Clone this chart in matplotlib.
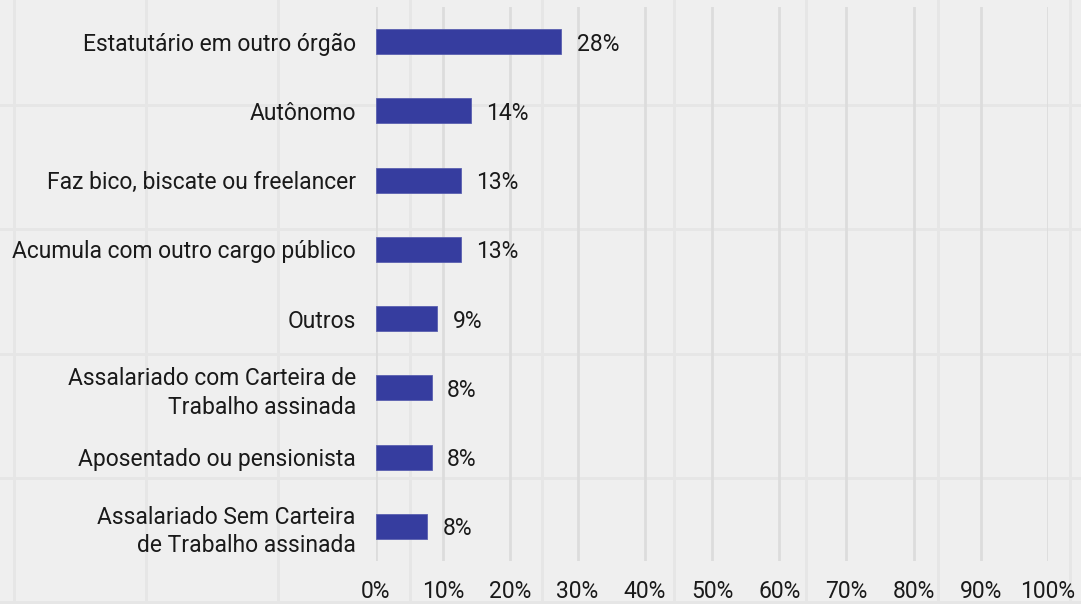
import matplotlib.pyplot as plt
import numpy as np

# dados (percentual)
categorias = [
    "Estatutário em outro órgão",
    "Autônomo",
    "Faz bico, biscate ou freelancer",
    "Acumula com outro cargo público",
    "Outros",
    "Assalariado com Carteira de\nTrabalho assinada",
    "Aposentado ou pensionista",
    "Assalariado Sem Carteira\nde Trabalho assinada",
]
valores = [27.6, 14.1, 12.6, 12.6, 9.1, 8.3, 8.3, 7.6]
ticks_x = [0, 10, 20, 30, 40, 50, 60, 70, 80, 90, 100]

plt.rcParams['font.family'] = ['Roboto', 'DejaVu Sans']
FS = 16.5

fig = plt.figure(figsize=(10.81, 6.04), dpi=100)
fig.patch.set_facecolor('#efefef')

# textura de fundo (grade clara da página)
bg = fig.add_axes([0, 0, 1, 1], zorder=-1)
bg.set_xlim(0, 1081)
bg.set_ylim(604, 0)
bg.axis('off')
for xv in np.arange(14, 1081, 132):
    bg.axvline(xv, color='#e6e6e6', lw=2)
for yv in np.arange(105, 604, 124.3):
    bg.axhline(yv, color='#e6e6e6', lw=2)

ax = fig.add_axes([376 / 1081, 1 - 561 / 604, 672 / 1081, 554 / 604])
ax.patch.set_alpha(0)

y = np.arange(len(categorias))
ax.barh(y, valores, height=0.36, color='#363d9f', edgecolor='#5a60b0',
        linewidth=0.6, zorder=3)

for yi, v in zip(y, valores):
    ax.text(v + 2.3, yi, f"{round(v)}%", va='center_baseline', ha='left',
            fontsize=FS, color='#1a1a1a', zorder=4)

ax.set_xlim(0, 100)
ax.set_ylim(len(categorias) - 0.5, -0.5)
ax.set_xticks(ticks_x)
ax.set_xticklabels([f"{t}%" for t in ticks_x])
ax.set_yticks(y)
ax.set_yticklabels(categorias, linespacing=1.3)
ax.tick_params(axis='x', length=0, pad=14, labelsize=FS, labelcolor='#1a1a1a')
ax.tick_params(axis='y', length=0, pad=14.5, labelsize=FS, labelcolor='#1a1a1a')
ax.xaxis.grid(True, color='#dcdcdc', lw=2, zorder=0)
ax.yaxis.grid(False)
ax.set_axisbelow(True)
for s in ax.spines.values():
    s.set_visible(False)

fig.savefig('out.png', dpi=100, facecolor=fig.get_facecolor())
